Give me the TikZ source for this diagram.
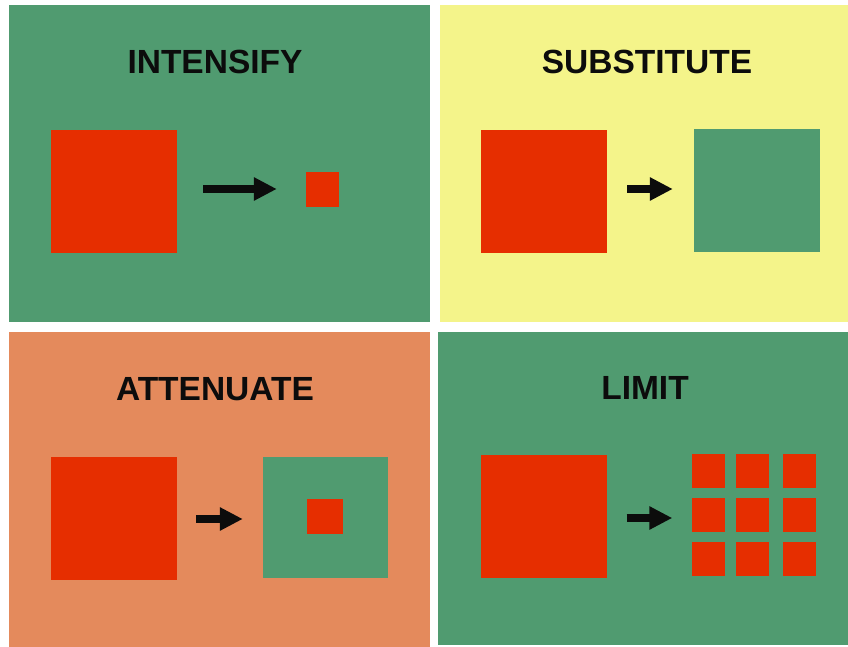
\documentclass[tikz,border=0pt]{standalone}
\usepackage{fontspec}
\setmainfont{Liberation Sans}
\usetikzlibrary{arrows.meta}
\definecolor{panelgreen}{RGB}{80,155,112}
\definecolor{panelyellow}{RGB}{244,244,138}
\definecolor{panelsalmon}{RGB}{228,138,92}
\definecolor{blockred}{RGB}{230,46,0}
\definecolor{ink}{RGB}{12,12,12}
\tikzset{
  panel/.style={fill=#1, draw=none},
  title/.style={font=\fontsize{33.5}{36}\selectfont\bfseries, text=ink, anchor=base, inner sep=0pt},
  block/.style={rectangle, draw=none, inner sep=0pt, fill=#1},
  bigblock/.style={block=blockred, minimum width=126pt, minimum height=123pt},
  tile/.style={block=blockred, minimum width=33pt, minimum height=34pt},
  arr/.style={line width=7.5pt, ink, -{Triangle[length=23pt,width=22pt]}}
}
\begin{document}
\begin{tikzpicture}[x=1pt,y=-1pt]
  % canvas
  \fill[white] (0,0) rectangle (848,647);
  \useasboundingbox (0,0) rectangle (848,647);

  % four panels
  \fill[panel=panelgreen]  (9,5)    rectangle (430,322);
  \fill[panel=panelyellow] (440,5)  rectangle (848,322);
  \fill[panel=panelsalmon] (9,332)  rectangle (430,647);
  \fill[panel=panelgreen]  (438,332) rectangle (848,645);

  % titles
  \node[title] (t1) at (215,74)  {INTENSIFY};
  \node[title] (t2) at (647,74)  {SUBSTITUTE};
  \node[title] (t3) at (215,400) {ATTENUATE};
  \node[title] (t4) at (645,399) {LIMIT};

  % INTENSIFY
  \node[bigblock] (i1) at (114,191.5) {};
  \node[block=blockred, minimum width=33pt, minimum height=35pt] (i2) at (322.5,189.5) {};
  \draw[arr, shorten <=26pt, shorten >=29pt] ([yshift=2.5pt]i1.east) -- ([yshift=2.5pt]i1.east -| i2.west);

  % SUBSTITUTE
  \node[bigblock] (s1) at (544,191.5) {};
  \node[block=panelgreen, minimum width=126pt, minimum height=123pt] (s2) at (757,190.5) {};
  \draw[arr, shorten <=20pt, shorten >=21pt] ([yshift=2.5pt]s1.east) -- ([yshift=2.5pt]s1.east -| s2.west);

  % ATTENUATE
  \node[bigblock] (a1) at (114,518) {};
  \node[block=panelgreen, minimum width=125pt, minimum height=121pt] (a2) at (325.5,517.5) {};
  \node[block=blockred, minimum width=36pt, minimum height=35pt] (a3) at (325,516.5) {};
  \draw[arr, shorten <=19pt, shorten >=20pt] ([yshift=-1pt]a1.east) -- ([yshift=-1pt]a1.east -| a2.west);

  % LIMIT
  \node[bigblock] (l1) at (543.5,516) {};
  \foreach \r/\y in {1/471,2/514.5,3/559}{
    \foreach \c/\x in {1/708,2/752.5,3/799}{
      \node[tile] (g\r\c) at (\x,\y) {};
    }
  }
  \draw[arr, shorten <=20pt, shorten >=19pt] ([yshift=-2pt]l1.east) -- ([yshift=-2pt]l1.east -| g21.west);
\end{tikzpicture}
\end{document}
